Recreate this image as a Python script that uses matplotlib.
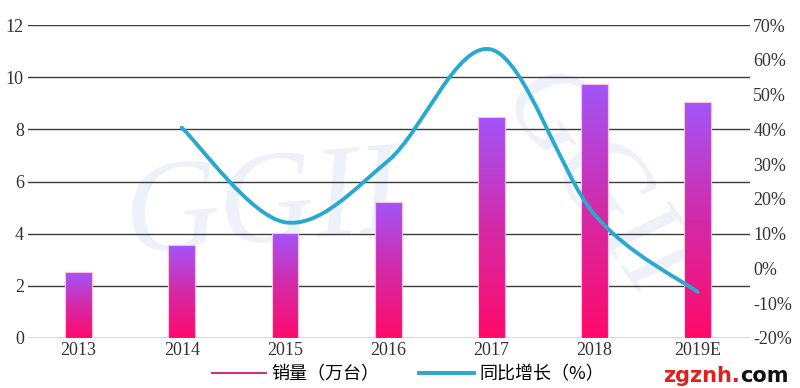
import numpy as np
import matplotlib
matplotlib.use('Agg')
import matplotlib.pyplot as plt
from matplotlib.path import Path
from matplotlib.patches import PathPatch
from matplotlib.lines import Line2D
from matplotlib.colors import LinearSegmentedColormap

years = ['2013', '2014', '2015', '2016', '2017', '2018', '2019E']
sales = [2.53, 3.56, 4.02, 5.21, 8.47, 9.73, 9.04]
growth_years = ['2014', '2015', '2016', '2017', '2018', '2019E']
growth = [40.5, 13.3, 31.0, 63.0, 15.5, -6.8]

plt.rcParams['font.family'] = ['Liberation Serif', 'Noto Sans CJK SC', 'DejaVu Sans']

fig = plt.figure(figsize=(8, 3.88), dpi=100)
ax = fig.add_axes([0.035, 0.129, 0.903, 0.806])
ax2 = ax.twinx()
ax.set_zorder(2)
ax2.set_zorder(3)

x = np.arange(len(years))

# faint watermark behind the plot
fig.text(0.33, 0.46, 'GGII', fontsize=95, color='#eef0fa', style='italic',
         family='Liberation Serif', ha='center', va='center', rotation=5, zorder=0)
fig.text(0.74, 0.52, 'GGII', fontsize=85, color='#eef0fa', style='italic',
         family='Liberation Serif', ha='center', va='center', rotation=-55, zorder=0)
ax.patch.set_alpha(0)
ax2.patch.set_alpha(0)

# gridlines
for v in range(2, 13, 2):
    ax.axhline(v, color='#3c3c3c', lw=1.0, zorder=1)
ax.axhline(0, color='#cfcfcf', lw=1.2, zorder=1)

# gradient bars
cmap = LinearSegmentedColormap.from_list('g', ['#ff0a6a', '#d42aa8', '#a255fa'])
grad = np.linspace(0, 1, 256).reshape(-1, 1)
w = 0.26
for xi, h in zip(x, sales):
    ax.imshow(grad, cmap=cmap, origin='lower', aspect='auto',
              extent=[xi - w / 2, xi + w / 2, 0, h], zorder=2)
    ax.add_patch(plt.Rectangle((xi - w / 2, 0), w, h, fill=False,
                               ec='#ffc0dc', lw=0.8, zorder=3))
ax.set_xlim(-0.49, 6.51)
ax.set_ylim(0, 12)
ax2.set_ylim(-20, 70)

# smoothed growth line (Catmull-Rom -> bezier)
gx = np.array([years.index(y) for y in growth_years], dtype=float)
gy = np.array(growth, dtype=float)
pts = np.column_stack([gx, gy])
verts = [pts[0]]
codes = [Path.MOVETO]
for i in range(len(pts) - 1):
    p0 = pts[i - 1] if i > 0 else pts[i]
    p1, p2 = pts[i], pts[i + 1]
    p3 = pts[i + 2] if i + 2 < len(pts) else pts[i + 1]
    c1 = p1 + (p2 - p0) / 6
    c2 = p2 - (p3 - p1) / 6
    verts += [c1, c2, p2]
    codes += [Path.CURVE4] * 3
ax2.add_patch(PathPatch(Path(verts, codes), fill=False, ec='#2aa9cf', lw=2.8,
                        capstyle='round', zorder=4))

ax.set_xticks(x)
ax.set_xticklabels(years)
ax.set_yticks(range(0, 13, 2))
ax2.set_yticks(range(-20, 71, 10))
ax2.set_yticklabels([f'{v}%' for v in range(-20, 71, 10)])
ax.tick_params(axis='y', length=0, labelsize=13, colors='#333333', pad=3)
ax.tick_params(axis='x', length=0, labelsize=13, colors='#333333', pad=3)
ax2.tick_params(axis='y', length=0, labelsize=13, colors='#333333', pad=2)
for a in (ax, ax2):
    for s in a.spines.values():
        s.set_visible(False)

handles = [Line2D([], [], color='#c8347e', lw=1.5),
           Line2D([], [], color='#2aa9cf', lw=2.8)]
fig.legend(handles, ['销量（万台）', '同比增长（%）'], loc='center',
           bbox_to_anchor=(0.51, 0.035), ncol=2, frameon=False,
           handlelength=3.0, columnspacing=2.2, handletextpad=0.3,
           prop={'family': ['Noto Sans CJK SC'], 'size': 13})

fig.text(0.925, 0.005, 'zgznh.', color='#e0201a', fontsize=15, weight='bold',
         family='DejaVu Sans', ha='right', va='bottom')
fig.text(0.925, 0.005, 'com', color='#111111', fontsize=15, weight='bold',
         family='DejaVu Sans', ha='left', va='bottom')

fig.savefig('out.png', dpi=100, facecolor='white')
